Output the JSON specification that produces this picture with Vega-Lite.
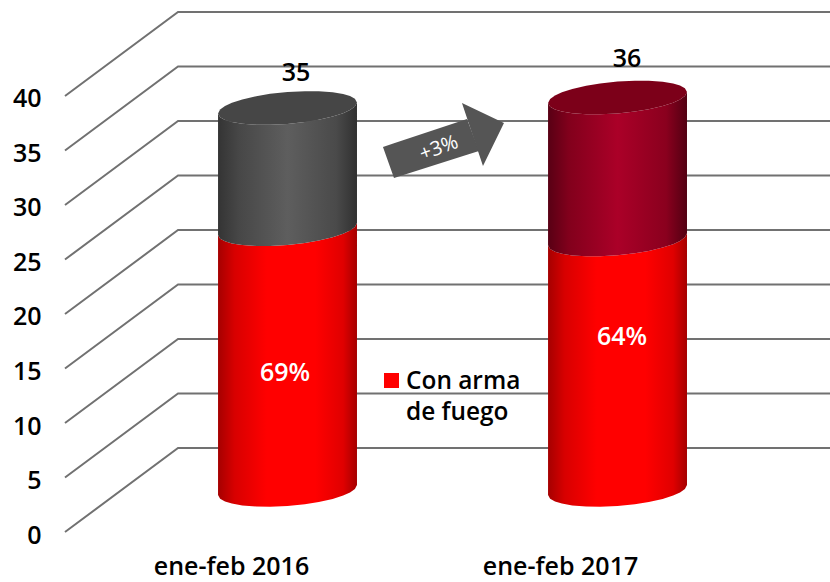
{"$schema":"https://vega.github.io/schema/vega-lite/v6.json","width":830,"height":582,"padding":0,"autosize":"none","background":"white","config":{"view":{"stroke":null},"text":{"font":"Open Sans"}},
"datasets":{
"grid":[{"tick":0,"pos":7.83,"val":0},{"tick":0,"pos":21.45,"val":7.7},{"tick":0,"pos":100,"val":7.7},{"tick":5,"pos":7.83,"val":5},{"tick":5,"pos":21.45,"val":12.7},{"tick":5,"pos":100,"val":12.7},{"tick":10,"pos":7.83,"val":10},{"tick":10,"pos":21.45,"val":17.7},{"tick":10,"pos":100,"val":17.7},{"tick":15,"pos":7.83,"val":15},{"tick":15,"pos":21.45,"val":22.7},{"tick":15,"pos":100,"val":22.7},{"tick":20,"pos":7.83,"val":20},{"tick":20,"pos":21.45,"val":27.7},{"tick":20,"pos":100,"val":27.7},{"tick":25,"pos":7.83,"val":25},{"tick":25,"pos":21.45,"val":32.7},{"tick":25,"pos":100,"val":32.7},{"tick":30,"pos":7.83,"val":30},{"tick":30,"pos":21.45,"val":37.7},{"tick":30,"pos":100,"val":37.7},{"tick":35,"pos":7.83,"val":35},{"tick":35,"pos":21.45,"val":42.7},{"tick":35,"pos":100,"val":42.7},{"tick":40,"pos":7.83,"val":40},{"tick":40,"pos":21.45,"val":47.7},{"tick":40,"pos":100,"val":47.7}],
"c2016":[
{"pos":26.27,"base":3.394,"split":27.25,"front":38.395,"back":38.395},
{"pos":26.52,"base":3.051,"split":26.909,"front":38.053,"back":38.767},
{"pos":27.11,"base":2.8,"split":26.665,"front":37.805,"back":39.085},
{"pos":27.94,"base":2.605,"split":26.479,"front":37.615,"back":39.377},
{"pos":29.19,"base":2.439,"split":26.326,"front":37.456,"back":39.688},
{"pos":30.87,"base":2.335,"split":26.241,"front":37.362,"back":39.984},
{"pos":32.54,"base":2.317,"split":26.241,"front":37.353,"back":40.195},
{"pos":34.64,"base":2.385,"split":26.332,"front":37.432,"back":40.368},
{"pos":36.73,"base":2.547,"split":26.517,"front":37.605,"back":40.447},
{"pos":38.41,"base":2.749,"split":26.737,"front":37.816,"back":40.438},
{"pos":40.08,"base":3.035,"split":27.042,"front":38.112,"back":40.344},
{"pos":41.34,"base":3.339,"split":27.359,"front":38.423,"back":40.185},
{"pos":42.17,"base":3.626,"split":27.655,"front":38.715,"back":39.995},
{"pos":42.76,"base":3.941,"split":27.977,"front":39.033,"back":39.747},
{"pos":43.01,"base":4.312,"split":28.35,"front":39.405,"back":39.405}],
"c2017":[
{"pos":66.03,"base":3.394,"split":26.3,"front":39.357,"back":39.357},
{"pos":66.28,"base":3.051,"split":25.96,"front":39.015,"back":39.729},
{"pos":66.87,"base":2.8,"split":25.715,"front":38.767,"back":40.047},
{"pos":67.7,"base":2.605,"split":25.53,"front":38.577,"back":40.339},
{"pos":68.95,"base":2.439,"split":25.376,"front":38.418,"back":40.65},
{"pos":70.63,"base":2.335,"split":25.29,"front":38.324,"back":40.946},
{"pos":72.3,"base":2.317,"split":25.29,"front":38.315,"back":41.157},
{"pos":74.4,"base":2.385,"split":25.38,"front":38.394,"back":41.33},
{"pos":76.49,"base":2.547,"split":25.567,"front":38.567,"back":41.409},
{"pos":78.17,"base":2.749,"split":25.787,"front":38.778,"back":41.4},
{"pos":79.84,"base":3.035,"split":26.09,"front":39.074,"back":41.306},
{"pos":81.1,"base":3.339,"split":26.41,"front":39.385,"back":41.147},
{"pos":81.93,"base":3.626,"split":26.705,"front":39.677,"back":40.957},
{"pos":82.52,"base":3.941,"split":27.03,"front":39.995,"back":40.709},
{"pos":82.77,"base":4.312,"split":27.4,"front":40.367,"back":40.367}]
},
"layer":[
{"data":{"name":"grid"},"mark":{"type":"line","color":"#717171","strokeWidth":2,"strokeJoin":"miter"},
"encoding":{"x":{"field":"pos","type":"quantitative","scale":{"domain":[0,100],"nice":false,"zero":false},
"axis":{"title":null,"grid":false,"domain":false,"ticks":false,"values":[27.83,67.47],"labelExpr":"datum.value < 50 ? 'ene-feb 2016' : 'ene-feb 2017'","labelFont":"Open Sans","labelFontSize":25,"labelFontWeight":600,"labelColor":"#000000","labelPadding":0,"offset":-28,"labelOverlap":false,"labelFlush":false}},
"y":{"field":"val","type":"quantitative","scale":{"domain":[-4.587,48.807],"nice":false,"zero":false},
"axis":{"title":null,"grid":false,"domain":false,"ticks":false,"values":[0,5,10,15,20,25,30,35,40],"format":"d","labelFont":"Open Sans","labelFontSize":25,"labelFontWeight":600,"labelColor":"#000000","labelPadding":0,"labelOffset":3,"offset":-41,"labelOverlap":false,"labelFlush":false}},
"detail":{"field":"tick","type":"nominal"}}},
{"data":{"name":"c2016"},"mark":{"type":"area","color":{"gradient":"linear","x1":0,"x2":1,"y1":0,"y2":0,"stops":[{"offset":0,"color":"#a50000"},{"offset":0.12,"color":"#d80000"},{"offset":0.35,"color":"#ff0000"},{"offset":0.7,"color":"#ff0000"},{"offset":0.9,"color":"#e00000"},{"offset":1,"color":"#a50000"}]}},
"encoding":{"x":{"field":"pos","type":"quantitative"},"y":{"field":"base","type":"quantitative"},"y2":{"field":"split"}}},
{"data":{"name":"c2016"},"mark":{"type":"area","color":{"gradient":"linear","x1":0,"x2":1,"y1":0,"y2":0,"stops":[{"offset":0,"color":"#343434"},{"offset":0.15,"color":"#474747"},{"offset":0.5,"color":"#5e5e5e"},{"offset":0.85,"color":"#4a4a4a"},{"offset":1,"color":"#303030"}]}},
"encoding":{"x":{"field":"pos","type":"quantitative"},"y":{"field":"split","type":"quantitative"},"y2":{"field":"front"}}},
{"data":{"name":"c2016"},"mark":{"type":"area","color":"#464646"},
"encoding":{"x":{"field":"pos","type":"quantitative"},"y":{"field":"front","type":"quantitative"},"y2":{"field":"back"}}},
{"data":{"name":"c2017"},"mark":{"type":"area","color":{"gradient":"linear","x1":0,"x2":1,"y1":0,"y2":0,"stops":[{"offset":0,"color":"#a50000"},{"offset":0.12,"color":"#d80000"},{"offset":0.35,"color":"#ff0000"},{"offset":0.7,"color":"#ff0000"},{"offset":0.9,"color":"#e00000"},{"offset":1,"color":"#a50000"}]}},
"encoding":{"x":{"field":"pos","type":"quantitative"},"y":{"field":"base","type":"quantitative"},"y2":{"field":"split"}}},
{"data":{"name":"c2017"},"mark":{"type":"area","color":{"gradient":"linear","x1":0,"x2":1,"y1":0,"y2":0,"stops":[{"offset":0,"color":"#580014"},{"offset":0.15,"color":"#82001c"},{"offset":0.5,"color":"#ab0028"},{"offset":0.85,"color":"#8a001e"},{"offset":1,"color":"#520012"}]}},
"encoding":{"x":{"field":"pos","type":"quantitative"},"y":{"field":"split","type":"quantitative"},"y2":{"field":"front"}}},
{"data":{"name":"c2017"},"mark":{"type":"area","color":"#7c0019"},
"encoding":{"x":{"field":"pos","type":"quantitative"},"y":{"field":"front","type":"quantitative"},"y2":{"field":"back"}}},
{"data":{"values":[{"pos":46.14,"lo":35.32,"hi":35.32},{"pos":47.47,"lo":32.48,"hi":35.66},{"pos":56.27,"lo":34.61,"hi":37.89},{"pos":57.71,"lo":34.95,"hi":34.95}]},"mark":{"type":"area","color":"#555555"},
"encoding":{"x":{"field":"pos","type":"quantitative"},"y":{"field":"lo","type":"quantitative"},"y2":{"field":"hi"}}},
{"data":{"values":[{"pos":55.66,"lo":39.36,"hi":39.36},{"pos":58.19,"lo":33.58,"hi":38.44},{"pos":60.72,"lo":37.52,"hi":37.52}]},"mark":{"type":"area","color":"#555555"},
"encoding":{"x":{"field":"pos","type":"quantitative"},"y":{"field":"lo","type":"quantitative"},"y2":{"field":"hi"}}},
{"data":{"values":[{"pos":52.9,"val":35.2,"label":"+3%"}]},"mark":{"type":"text","color":"#ffffff","fontSize":20,"angle":340,"align":"center","baseline":"middle","font":"Open Sans"},
"encoding":{"x":{"field":"pos","type":"quantitative"},"y":{"field":"val","type":"quantitative"},"text":{"field":"label"}}},
{"data":{"values":[{"pos":35.66,"val":42.1,"label":"35"},{"pos":75.54,"val":43.4,"label":"36"}]},"mark":{"type":"text","color":"#000000","fontSize":25,"fontWeight":600,"align":"center","baseline":"middle","font":"Open Sans"},
"encoding":{"x":{"field":"pos","type":"quantitative"},"y":{"field":"val","type":"quantitative"},"text":{"field":"label"}}},
{"data":{"values":[{"pos":34.34,"val":14.59,"label":"69%"},{"pos":74.94,"val":17.89,"label":"64%"}]},"mark":{"type":"text","color":"#ffffff","fontSize":25,"fontWeight":600,"align":"center","baseline":"middle","font":"Open Sans"},
"encoding":{"x":{"field":"pos","type":"quantitative"},"y":{"field":"val","type":"quantitative"},"text":{"field":"label"}}},
{"data":{"values":[{"pos":47.17,"val":13.9,"serie":"Con arma de fuego"}]},"mark":{"type":"point","shape":"square","filled":true,"opacity":1,"color":"#ff0000","size":225},
"encoding":{"x":{"field":"pos","type":"quantitative"},"y":{"field":"val","type":"quantitative"}}},
{"data":{"values":[{"pos":48.92,"val":13.76,"label":"Con arma"},{"pos":48.92,"val":10.92,"label":"de fuego"}]},"mark":{"type":"text","color":"#000000","fontSize":24.4,"fontWeight":600,"align":"left","baseline":"middle","font":"Open Sans"},
"encoding":{"x":{"field":"pos","type":"quantitative"},"y":{"field":"val","type":"quantitative"},"text":{"field":"label"}}}
]}
